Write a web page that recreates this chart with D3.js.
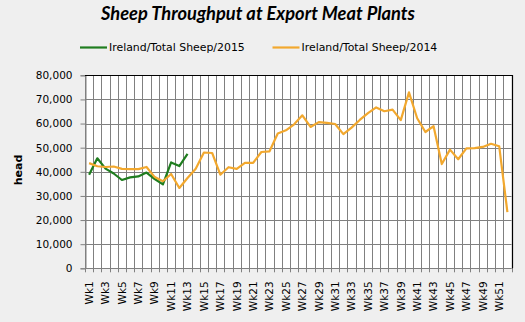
<!DOCTYPE html>
<html><head><meta charset="utf-8">
<script src="https://cdn.jsdelivr.net/npm/d3@7"></script>
<style>
html,body{margin:0;padding:0;background:#efefef;}
svg{display:block;}
</style></head>
<body>
<svg id="chart" width="525" height="322"></svg>
<script>
const weeks = ["Wk1","Wk2","Wk3","Wk4","Wk5","Wk6","Wk7","Wk8","Wk9","Wk10","Wk11","Wk12","Wk13","Wk14","Wk15","Wk16","Wk17","Wk18","Wk19","Wk20","Wk21","Wk22","Wk23","Wk24","Wk25","Wk26","Wk27","Wk28","Wk29","Wk30","Wk31","Wk32","Wk33","Wk34","Wk35","Wk36","Wk37","Wk38","Wk39","Wk40","Wk41","Wk42","Wk43","Wk44","Wk45","Wk46","Wk47","Wk48","Wk49","Wk50","Wk51","Wk52"];
const sheep2015 = [38800,45600,41300,39300,36600,37700,38100,39700,37000,34800,43900,42400,47400];
const sheep2014 = [43600,42300,42000,42200,41200,41100,41100,42000,37800,36100,
                   39100,33300,37400,41300,48000,47800,38800,41900,41200,43700,
                   43700,48200,48500,55900,57200,59700,63400,58600,60600,60300,
                   59800,55600,58300,61500,64300,66700,65100,65800,61400,72900,
                   62200,56500,58900,43200,49200,45200,49700,49800,50300,51600,
                   50600,23300];
const yTicks = [0,10000,20000,30000,40000,50000,60000,70000,80000];
const seriesNames = ["Ireland/Total Sheep/2015","Ireland/Total Sheep/2014"];
const seriesColors = ["#1f7d1f","#f2a82e"];

const svg = d3.select("#chart");
const L = 85, R = 511.5, T = 75.3, B = 268.3;
const font = "'DejaVu Sans', Verdana, sans-serif";

const x = d3.scaleBand().domain(weeks).range([L, R]).padding(0);
const y = d3.scaleLinear().domain([0, 80000]).range([B, T]);
const cx = d => x(d) + x.bandwidth() / 2;

// plot background
svg.append("rect").attr("x", L).attr("y", T).attr("width", R - L).attr("height", B - T).attr("fill", "#ffffff");

// horizontal gridlines
svg.append("g").selectAll("line").data(yTicks).join("line")
  .attr("x1", L).attr("x2", R)
  .attr("y1", d => Math.round(y(d)) + 0.5).attr("y2", d => Math.round(y(d)) + 0.5)
  .attr("stroke", "#808080").attr("stroke-width", 1);

// vertical gridlines at category boundaries
const bounds = weeks.map(d => x(d)).concat([R]);
svg.append("g").selectAll("line").data(bounds).join("line")
  .attr("x1", d => Math.round(d) + 0.5).attr("x2", d => Math.round(d) + 0.5)
  .attr("y1", T).attr("y2", B + 4)
  .attr("stroke", "#808080").attr("stroke-width", 1);

// y axis
const yAxis = svg.append("g").attr("transform", `translate(${Math.round(L)+0.5},0)`)
  .call(d3.axisLeft(y).tickValues(yTicks).tickFormat(d3.format(",")).tickSize(5).tickPadding(8));
yAxis.select(".domain").attr("stroke", "#808080");
yAxis.selectAll(".tick line").attr("stroke", "#808080");
yAxis.selectAll(".tick text").attr("font-family", font).attr("font-size", "10.5px").attr("fill", "#000");

// x axis labels
const xAxis = svg.append("g").attr("transform", `translate(0,${B})`)
  .call(d3.axisBottom(x).tickValues(weeks.filter((d, i) => i % 2 === 0)).tickSize(0));
xAxis.select(".domain").remove();
xAxis.selectAll(".tick text")
  .attr("transform", "rotate(-90)")
  .attr("x", -13).attr("y", 0).attr("dy", "0.36em")
  .attr("text-anchor", "end")
  .attr("font-family", font).attr("font-size", "10.5px").attr("fill", "#000");

// bottom axis line
svg.append("line").attr("x1", L).attr("x2", R).attr("y1", Math.round(B)+0.5).attr("y2", Math.round(B)+0.5)
  .attr("stroke", "#808080");

// top and right border
svg.append("path")
  .attr("d", `M${L},${Math.round(T)+0.5}H${Math.round(R)+0.5}V${B}`)
  .attr("fill", "none").attr("stroke", "#000").attr("stroke-width", 1.2);

// lines (2015 first, 2014 drawn on top)
const line = d3.line().x(d => cx(d.w)).y(d => y(d.v));
[sheep2015, sheep2014].forEach((arr, k) => {
  svg.append("path")
    .datum(arr.map((v, i) => ({w: weeks[i], v})))
    .attr("d", line)
    .attr("fill", "none")
    .attr("stroke", seriesColors[k])
    .attr("stroke-width", 2.2)
    .attr("stroke-linejoin", "round");
});

// y title
svg.append("text").attr("transform", "translate(22,170) rotate(-90)")
  .attr("text-anchor", "middle")
  .attr("font-family", font).attr("font-size", "11px").attr("font-weight", "bold")
  .text("head");

// chart title
const title = svg.append("text").attr("x", 258).attr("y", 20)
  .attr("text-anchor", "middle")
  .attr("font-family", "Lato, 'Open Sans', sans-serif")
  .attr("font-size", "18px").attr("font-weight", "bold").attr("font-style", "italic")
  .text("Sheep Throughput at Export Meat Plants");
const tw = title.node().getComputedTextLength();
if (tw > 0) title.attr("font-size", (18 * 314 / tw).toFixed(2) + "px");

// legend
const legX = [80, 272.5];
seriesNames.forEach((name, i) => {
  const g = svg.append("g");
  g.append("line").attr("x1", legX[i]).attr("x2", legX[i] + 27)
    .attr("y1", 47.5).attr("y2", 47.5)
    .attr("stroke", seriesColors[i]).attr("stroke-width", 2.2);
  g.append("text").attr("x", legX[i] + 29).attr("y", 47.5).attr("dy", "0.35em")
    .attr("font-family", font).attr("font-size", "10.9px").attr("fill", "#000")
    .text(name);
});
</script>
</body></html>
